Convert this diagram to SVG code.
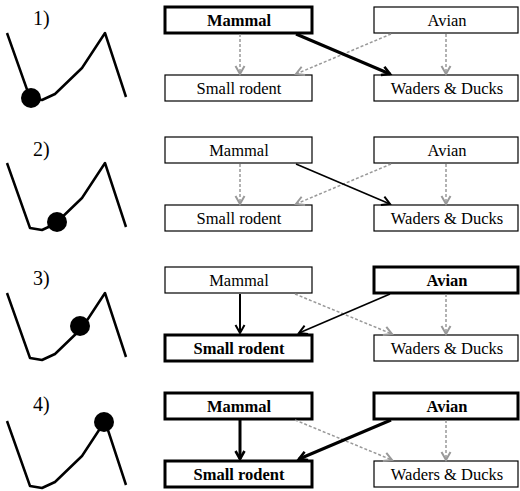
<svg xmlns="http://www.w3.org/2000/svg" width="520" height="491" viewBox="0 0 520 491" font-family="'Liberation Serif', 'DejaVu Serif', serif">
<style>
.box{fill:#fff;stroke:#000;stroke-width:1.2}
.bold{stroke-width:3}
text{font-family:'Liberation Serif','DejaVu Serif',serif}
.t{font-size:16.5px;text-anchor:middle;fill:#000}
.tb{font-weight:bold}
.lbl{font-size:20px;fill:#000}
.gray{stroke:#999;stroke-width:1.5;stroke-dasharray:3,2;fill:none;marker-end:url(#ag)}
.blk{stroke:#000;stroke-width:1.6;fill:none;marker-end:url(#ab)}
.blkT{stroke:#000;stroke-width:3;fill:none;marker-end:url(#abt)}
.curve{fill:none;stroke:#000;stroke-width:2.5;stroke-linejoin:round}
</style>
<defs>
<marker id="ag" markerUnits="userSpaceOnUse" markerWidth="14" markerHeight="14" viewBox="-2 -2 14 14" refX="9" refY="5" orient="auto"><path d="M1,0.5 L9,5 L1,9.5" fill="none" stroke="#999" stroke-width="2"/></marker>
<marker id="ab" markerUnits="userSpaceOnUse" markerWidth="14" markerHeight="14" viewBox="-2 -2 14 14" refX="9" refY="5" orient="auto"><path d="M1,0.5 L9,5 L1,9.5" fill="none" stroke="#000" stroke-width="2"/></marker>
<marker id="abt" markerUnits="userSpaceOnUse" markerWidth="14" markerHeight="14" viewBox="-2 -2 14 14" refX="9" refY="5" orient="auto"><path d="M1,0.5 L9,5 L1,9.5" fill="none" stroke="#000" stroke-width="2.6"/></marker>
<path id="land" d="M7,33 L30,98 L42,100 L55,94 L82,68 L105,33 L126,97"/>
</defs>

<!-- Panel 1 -->
<g id="panel1">
<text class="lbl" x="33" y="25">1)</text>
<use href="#land" class="curve"/>
<circle cx="31" cy="98" r="10" fill="#000"/>
<g id="p1-mammal"><rect class="box bold" x="165" y="7" width="147" height="26"/><text class="t tb" x="239" y="26">Mammal</text></g>
<g id="p1-avian"><rect class="box" x="374" y="7" width="144" height="26"/><text class="t" x="447" y="26">Avian</text></g>
<g id="p1-rodent"><rect class="box" x="165" y="75" width="147" height="26"/><text class="t" x="239" y="94">Small rodent</text></g>
<g id="p1-waders"><rect class="box" x="374" y="75" width="144" height="26"/><text class="t" x="447" y="94">Waders &amp; Ducks</text></g>
<g id="p1-connectors">
<line class="gray" x1="240" y1="34" x2="240" y2="74"/>
<line class="gray" x1="391" y1="34" x2="296" y2="74"/>
<line class="gray" x1="446" y1="34" x2="446" y2="74"/>
<line class="blkT" x1="296" y1="34" x2="390" y2="74"/>
</g>
</g>

<!-- Panel 2 -->
<g id="panel2" transform="translate(0,130)">
<text class="lbl" x="33" y="26">2)</text>
<use href="#land" class="curve"/>
<circle cx="57" cy="92" r="10" fill="#000"/>
<g id="p2-mammal"><rect class="box" x="165" y="7" width="147" height="26"/><text class="t" x="239" y="26">Mammal</text></g>
<g id="p2-avian"><rect class="box" x="374" y="7" width="144" height="26"/><text class="t" x="447" y="26">Avian</text></g>
<g id="p2-rodent"><rect class="box" x="165" y="75" width="147" height="26"/><text class="t" x="239" y="94">Small rodent</text></g>
<g id="p2-waders"><rect class="box" x="374" y="75" width="144" height="26"/><text class="t" x="447" y="94">Waders &amp; Ducks</text></g>
<g id="p2-connectors">
<line class="gray" x1="240" y1="34" x2="240" y2="74"/>
<line class="gray" x1="391" y1="34" x2="296" y2="74"/>
<line class="gray" x1="446" y1="34" x2="446" y2="74"/>
<line class="blk" x1="296" y1="34" x2="390" y2="74"/>
</g>
</g>

<!-- Panel 3 -->
<g id="panel3" transform="translate(0,260)">
<text class="lbl" x="33" y="25">3)</text>
<use href="#land" class="curve"/>
<circle cx="80" cy="66" r="10" fill="#000"/>
<g id="p3-mammal"><rect class="box" x="165" y="7" width="147" height="26"/><text class="t" x="239" y="26">Mammal</text></g>
<g id="p3-avian"><rect class="box bold" x="374" y="7" width="144" height="26"/><text class="t tb" x="447" y="26">Avian</text></g>
<g id="p3-rodent"><rect class="box bold" x="165" y="75" width="147" height="26"/><text class="t tb" x="239" y="94">Small rodent</text></g>
<g id="p3-waders"><rect class="box" x="374" y="75" width="144" height="26"/><text class="t" x="447" y="94">Waders &amp; Ducks</text></g>
<g id="p3-connectors">
<line class="gray" x1="295" y1="34" x2="392" y2="74"/>
<line class="gray" x1="446" y1="34" x2="446" y2="74"/>
<line class="blk" style="stroke-width:2" x1="240" y1="34" x2="240" y2="73"/>
<line class="blk" x1="390" y1="34" x2="299" y2="73"/>
</g>
</g>

<!-- Panel 4 -->
<g id="panel4" transform="translate(0,386)">
<text class="lbl" x="33" y="25">4)</text>
<g transform="translate(0,2)"><use href="#land" class="curve"/>
<circle cx="104" cy="34" r="10" fill="#000"/></g>
<g id="p4-mammal"><rect class="box bold" x="165" y="7" width="147" height="26"/><text class="t tb" x="239" y="26">Mammal</text></g>
<g id="p4-avian"><rect class="box bold" x="374" y="7" width="144" height="26"/><text class="t tb" x="447" y="26">Avian</text></g>
<g id="p4-rodent"><rect class="box bold" x="165" y="75" width="147" height="26"/><text class="t tb" x="239" y="94">Small rodent</text></g>
<g id="p4-waders"><rect class="box" x="374" y="75" width="144" height="26"/><text class="t" x="447" y="94">Waders &amp; Ducks</text></g>
<g id="p4-connectors">
<line class="gray" x1="295" y1="34" x2="392" y2="74"/>
<line class="gray" x1="446" y1="34" x2="446" y2="74"/>
<line class="blkT" x1="240" y1="34" x2="240" y2="73"/>
<line class="blkT" x1="391" y1="34" x2="299" y2="73"/>
</g>
</g>
</svg>
